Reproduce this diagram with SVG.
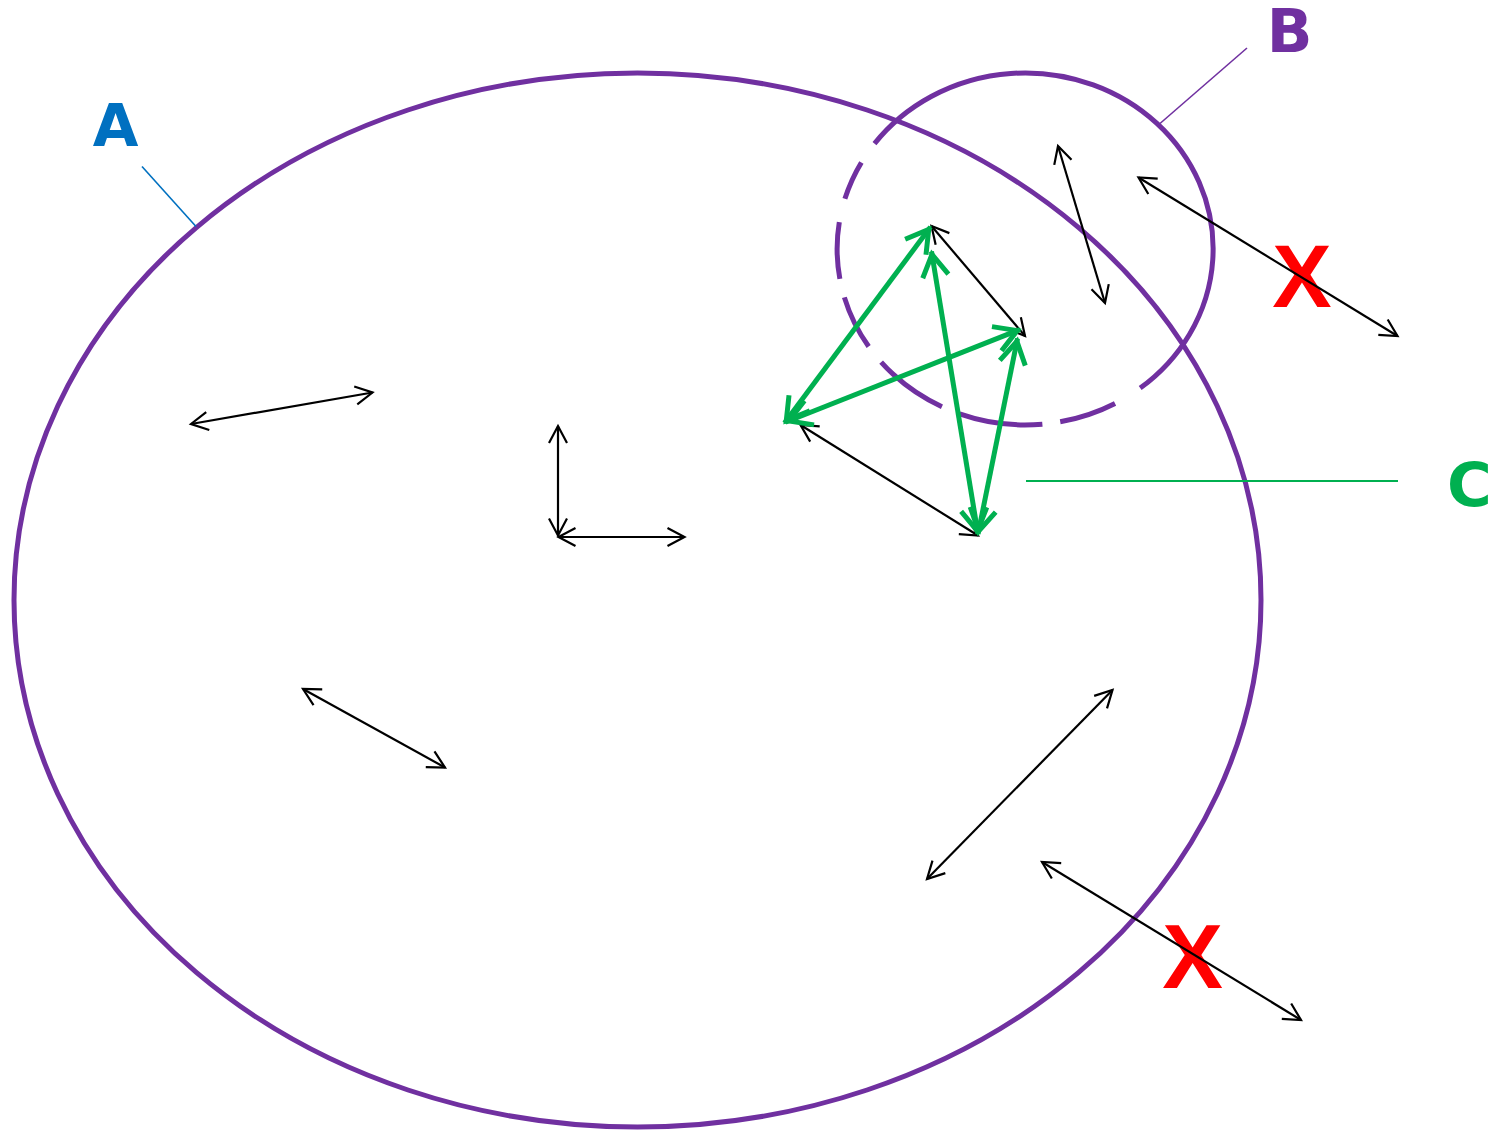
<svg xmlns="http://www.w3.org/2000/svg" width="1497" height="1130" viewBox="0 0 1497 1130">
  <style>
    .set { fill: none; stroke: #7030A0; stroke-width: 5; }
    .arr { fill: none; stroke: #000; stroke-width: 2.2; marker-start: url(#ah); marker-end: url(#ah); }
    .garr { fill: none; stroke: #00B050; stroke-width: 5; marker-start: url(#gh); marker-end: url(#gh); }
    .lbl { font-family: "DejaVu Sans", "Liberation Sans", sans-serif; font-weight: bold; }
    .x { font-family: "Liberation Sans", Arial, sans-serif; font-weight: bold; fill: #FF0000; text-anchor: middle; }
  </style>
  <defs>
    <marker id="ah" markerUnits="userSpaceOnUse" viewBox="-25 -25 50 50" markerWidth="50" markerHeight="50" refX="0" refY="0" orient="auto-start-reverse" overflow="visible">
      <path d="M-17,-9 L0,0 L-17,9" fill="none" stroke="#000" stroke-width="2.2"/>
    </marker>
    <marker id="gh" markerUnits="userSpaceOnUse" viewBox="-30 -30 60 60" markerWidth="60" markerHeight="60" refX="0" refY="0" orient="auto-start-reverse" overflow="visible">
      <path d="M-25,-13 L-3,0 L-25,13" fill="none" stroke="#00B050" stroke-width="5"/>
    </marker>
  </defs>

  <g id="setA">
    <ellipse class="set" cx="637.5" cy="600" rx="623.5" ry="527"/>
  </g>
  <g id="setB">
    <path class="set" d="M1140.2,388.1 A188,176 0 1 0 874.5,143.6"/>
    <path class="set" d="M874.5,143.6 A188,176 0 0 0 1140.2,388.1" stroke-dasharray="0 23 40 24 57 19 55 20 76 19 84 18 58 60"/>
  </g>

  <g id="leaders">
    <line x1="142" y1="166.5" x2="196" y2="226.5" stroke="#0070C0" stroke-width="1.6"/>
    <line x1="1247" y1="48" x2="1160" y2="123.5" stroke="#7030A0" stroke-width="1.6"/>
    <line x1="1026" y1="481" x2="1398" y2="481" stroke="#00B050" stroke-width="2"/>
  </g>

  <g id="labels">
    <text class="lbl" x="115.5" y="146" font-size="59" fill="#0070C0" text-anchor="middle">A</text>
    <text class="lbl" x="1289.5" y="52" font-size="60" fill="#7030A0" text-anchor="middle">B</text>
    <text class="lbl" x="1447" y="506" font-size="61" fill="#00B050">C</text>
    <text class="x" x="1302" y="307" font-size="89">X</text>
    <text class="x" x="1192.5" y="988" font-size="91">X</text>
  </g>

  <g id="connectors">
    <line class="arr" x1="191" y1="424" x2="372.5" y2="392.5"/>
    <line class="arr" x1="558" y1="426" x2="558" y2="535.5"/>
    <line class="arr" x1="558.5" y1="537" x2="684.5" y2="537"/>
    <line class="arr" x1="303" y1="689" x2="445" y2="767.5"/>
    <line class="arr" x1="927" y1="879" x2="1112.5" y2="690"/>
    <line class="arr" x1="1042" y1="862" x2="1301" y2="1020"/>
    <line class="arr" x1="1138.5" y1="177.5" x2="1397.5" y2="336"/>
    <line class="arr" x1="1058" y1="146" x2="1105" y2="303"/>
    <line class="arr" x1="931.5" y1="226" x2="1025" y2="336"/>
    <line class="arr" x1="800.5" y1="425" x2="978" y2="535.5"/>

    <line class="garr" x1="784.5" y1="423" x2="930.5" y2="227"/>
    <line class="garr" x1="786" y1="422" x2="1020" y2="329.5"/>
    <line class="garr" x1="931.5" y1="251.5" x2="978" y2="534"/>
    <line class="garr" x1="978" y1="534" x2="1017.5" y2="338.5"/>
  </g>
</svg>
